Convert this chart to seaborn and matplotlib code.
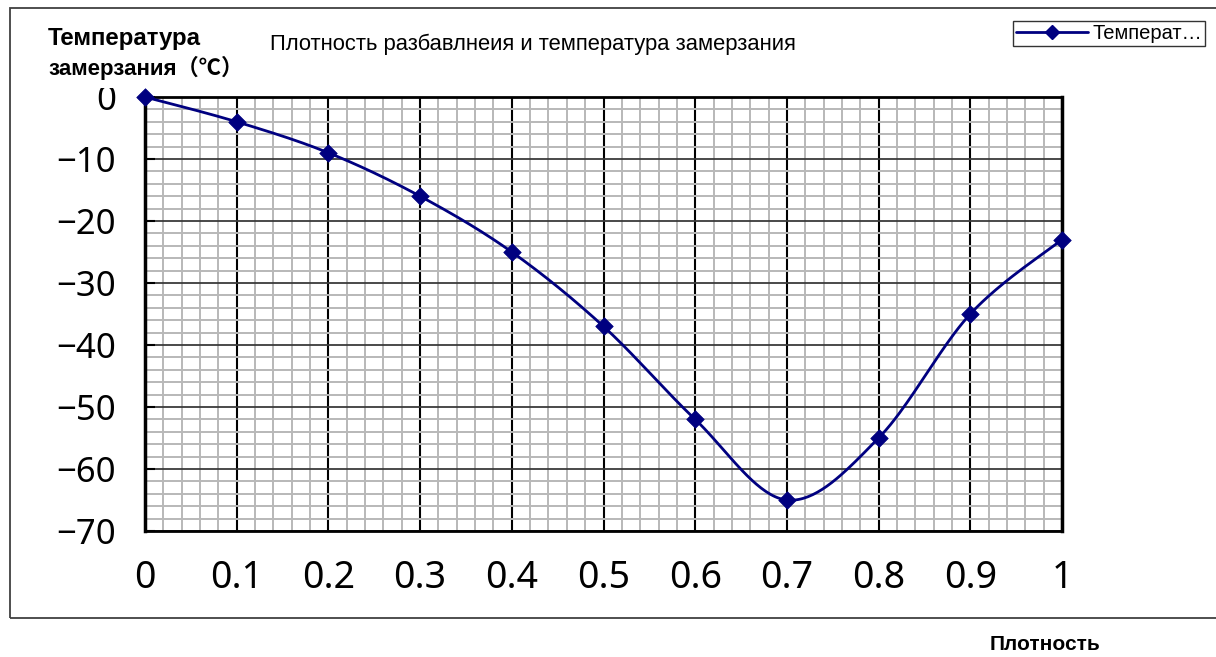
import numpy as np
import pandas as pd
import matplotlib
matplotlib.use("Agg")
import matplotlib.pyplot as plt
import seaborn as sns
from matplotlib.lines import Line2D
from matplotlib.patches import Rectangle
from matplotlib.ticker import MultipleLocator
from matplotlib.transforms import Bbox

# ---- data ----
density = [0.0, 0.1, 0.2, 0.3, 0.4, 0.5, 0.6, 0.7, 0.8, 0.9, 1.0]
freeze_temp = [0, -4, -9, -16, -25, -37, -52, -65, -55, -35, -23]
x_ticks = [0, 0.1, 0.2, 0.3, 0.4, 0.5, 0.6, 0.7, 0.8, 0.9, 1]
x_tick_labels = ["0", "0.1", "0.2", "0.3", "0.4", "0.5", "0.6", "0.7", "0.8", "0.9", "1"]
y_ticks = [0, -10, -20, -30, -40, -50, -60, -70]
title_text = "Плотность разбавлнеия и температура замерзания"
y_label_line1 = "Температура"
y_label_line2 = "замерзания（℃）"
x_label_text = "Плотность"
legend_text = "Температ…"

NAVY = "#000080"


def smooth_curve(xs, ys, n=40):
    """Excel-style smoothed line: Catmull-Rom cubic Bezier through the points."""
    P = np.column_stack([xs, ys]).astype(float)
    Pe = np.vstack([P[0], P, P[-1]])
    out = []
    t = np.linspace(0, 1, n)[:, None]
    for i in range(len(P) - 1):
        p0, p1, p2, p3 = Pe[i], Pe[i + 1], Pe[i + 2], Pe[i + 3]
        c1 = p1 + (p2 - p0) / 6.0
        c2 = p2 - (p3 - p1) / 6.0
        seg = ((1 - t) ** 3) * p1 + 3 * ((1 - t) ** 2) * t * c1 + 3 * (1 - t) * t ** 2 * c2 + t ** 3 * p2
        out.append(seg if i == 0 else seg[1:])
    out = np.vstack(out)
    return out[:, 0], out[:, 1]


sns.set_theme(style="white")
plt.rcParams["font.family"] = ["Liberation Sans", "Noto Sans CJK JP", "DejaVu Sans"]
plt.rcParams["text.color"] = "black"
plt.rcParams["xtick.color"] = "black"
plt.rcParams["ytick.color"] = "black"
plt.rcParams["xtick.labelcolor"] = "black"
plt.rcParams["ytick.labelcolor"] = "black"

W, H = 1216, 657
fig = plt.figure(figsize=(W / 100, H / 100), dpi=100)
fig.patch.set_facecolor("white")

left, right, top, bottom = 145, 1062, 97, 531
ax = fig.add_axes([left / W, 1 - bottom / H, (right - left) / W, (bottom - top) / H])
ax.set_facecolor("white")

ax.set_xlim(0, 1)
ax.set_ylim(-70, 0)

# grid
ax.xaxis.set_minor_locator(MultipleLocator(0.02))
ax.yaxis.set_minor_locator(MultipleLocator(2))
ax.grid(which="minor", axis="both", color="#b8b8b8", linewidth=1.4, zorder=0)
ax.grid(which="major", axis="x", color="black", linewidth=1.5, zorder=1)
ax.grid(which="major", axis="y", color="#3a3a3a", linewidth=1.3, zorder=1)
ax.set_axisbelow(True)

# smooth line + markers via seaborn
sx, sy = smooth_curve(density, freeze_temp)
curve_df = pd.DataFrame({"x": sx, "y": sy})
pts_df = pd.DataFrame({"x": density, "y": freeze_temp})
sns.lineplot(data=curve_df, x="x", y="y", ax=ax, color=NAVY, linewidth=2.0,
             sort=False, estimator=None, zorder=3, clip_on=False)
sns.scatterplot(data=pts_df, x="x", y="y", ax=ax, color=NAVY, marker="D", s=80,
                edgecolor=NAVY, linewidth=0.5, zorder=4, clip_on=False)

ax.set_xlabel("")
ax.set_ylabel("")

ax.set_xticks(x_ticks)
ax.set_xticklabels(x_tick_labels, family=["Noto Sans", "DejaVu Sans"], fontsize=27,
                   color="black")
ax.set_yticks(y_ticks)
ax.set_yticklabels([str(v).replace("-", "\u2212") for v in y_ticks],
                   family=["Noto Sans", "DejaVu Sans"], fontsize=25, color="black")
ax.tick_params(axis="x", which="both", length=0, pad=20)
ax.tick_params(axis="y", which="major", direction="in", length=7, width=1.5,
               color="black", pad=21, left=True)
ax.tick_params(axis="y", which="minor", length=0)

for side, lw in [("left", 2.5), ("right", 2.5), ("top", 2.0), ("bottom", 2.0)]:
    ax.spines[side].set_visible(True)
    ax.spines[side].set_color("black")
    ax.spines[side].set_linewidth(lw)

# clip the top "0" label like in the reference
fig.canvas.draw()
clip = Bbox.from_extents(0, 0, W, H - 88)
for lab in ax.get_yticklabels():
    lab.set_clip_box(clip)
    lab.set_clip_on(True)

# figure border
fig.patches.append(Rectangle((10 / W, 1 - 618 / H), 1.2, (618 - 8) / H,
                             transform=fig.transFigure, fill=False,
                             edgecolor="#404040", linewidth=1.3, zorder=0))

# texts
fam = ["Liberation Sans", "Noto Sans CJK JP", "DejaVu Sans"]
fig.text(48 / W, 1 - 38 / H, y_label_line1, ha="left", va="center", fontsize=17.3,
         fontweight="bold", family=fam, color="black")
fig.text(48 / W, 1 - 68 / H, y_label_line2, ha="left", va="center", fontsize=16,
         fontweight="bold", family=fam, color="black")
fig.text(533 / W, 1 - 44 / H, title_text, ha="center", va="center", fontsize=15.8,
         color="black")
fig.text(1045 / W, 1 - 645 / H, x_label_text, ha="center", va="center", fontsize=15,
         fontweight="bold", color="black")

# legend
handle = Line2D([0], [0], color=NAVY, linewidth=2, marker="D", markersize=7)
leg = fig.legend([handle], [legend_text], loc="upper right",
                 bbox_to_anchor=(1205 / W, 1 - 21 / H), frameon=True, fancybox=False,
                 fontsize=14.5, handlelength=3.6, borderpad=0.15, handletextpad=0.2,
                 borderaxespad=0)
leg.get_frame().set_edgecolor("black")
leg.get_frame().set_linewidth(1.0)
for t in leg.get_texts():
    t.set_color("black")

fig.savefig("out.png", dpi=100, facecolor="white")
